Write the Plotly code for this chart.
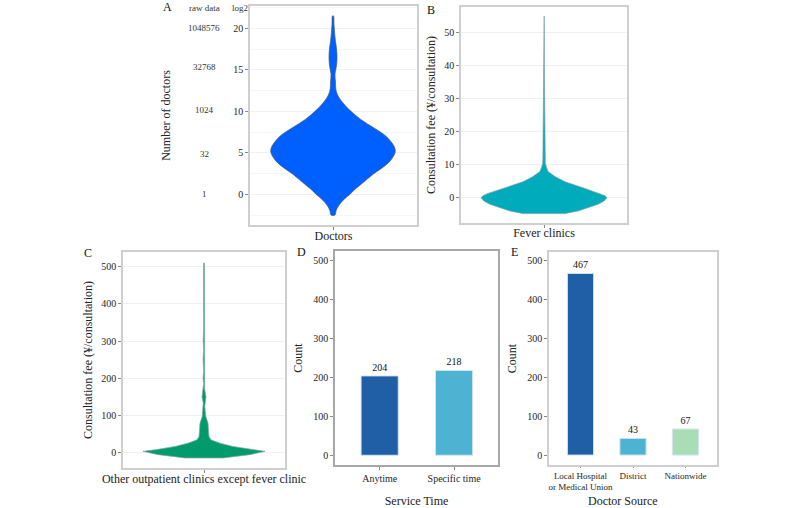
import plotly.graph_objects as go

W, H = 800, 508
SERIF = "Liberation Serif"

# Violin outlines: fee / log2 value and half width
doctors_y = [-2.5, -2, -1.5, -1, -0.5, 0, 0.5, 1, 1.5, 2.5, 3, 4, 5, 5.5, 6, 7, 8, 9, 10, 11, 12, 12.7, 13.5, 14.5, 15.5, 16.5, 17.5, 18.5, 19.5, 20.5, 21.5]
doctors_w = [2, 3, 5, 8, 12, 17, 21, 26, 31, 41, 47, 57, 62, 62, 60, 53, 41, 28, 18, 10, 4.5, 2.8, 2.5, 2, 3.5, 4, 3.6, 2.4, 1.6, 1, 0.5]

fever_y = [-4.8, -4, -2, -1, 0, 0.6, 1.3, 2.8, 4.8, 6.4, 7.9, 9.4, 10.4, 12, 20, 30, 40, 55]
fever_w = [21, 34, 54, 60, 63, 61, 56, 41, 21, 11, 4, 2.3, 1.3, 1.1, 0.8, 0.6, 0.3, 0.2]

other_y = [-15, -6, 3, 7, 16, 25, 34, 43, 61, 79, 97, 124, 133, 150, 170, 185, 200, 220, 250, 275, 300, 330, 400, 510]
other_w = [19, 46, 61, 49, 29, 16, 7, 5, 4.5, 4, 1.8, 0.8, 0.8, 2, 0.7, 0.4, 0.9, 0.4, 0.9, 0.4, 0.8, 0.4, 0.5, 0.5]

# Bars
time_cats = ["Anytime", "Specific time"]
time_counts = [204, 218]
source_cats = ["Local Hospital<br>or Medical Union", "District", "Nationwide"]
source_counts = [467, 43, 67]

# Raw data column of panel A
raw_labels = ["1048576", "32768", "1024", "32", "1"]
raw_pos_y = [28, 67, 110, 154, 194]

bar_colors = ["#205ea6", "#4eb3d3", "#a8ddb5"]


def xdom(a, b):
    return [a / W, b / W]


def ydom(top, bottom):
    return [1 - bottom / H, 1 - top / H]


def violin(y, w, color, edge, xa, ya, shape="linear"):
    xs = [-v for v in w] + [v for v in reversed(w)] + [-w[0]]
    ys = list(y) + list(reversed(y)) + [y[0]]
    return go.Scatter(x=xs, y=ys, mode="lines", fill="toself", fillcolor=color,
                      line=dict(color=edge, width=0.7, shape=shape), xaxis=xa, yaxis=ya,
                      showlegend=False, hoverinfo="skip")


fig = go.Figure()
fig.add_trace(violin(doctors_y, doctors_w, "#0060ff", "#4a5a70", "x", "y", "spline"))
fig.add_trace(violin(fever_y, fever_w, "#00acbb", "#7a9da2", "x2", "y2"))
fig.add_trace(violin(other_y, other_w, "#009a6c", "#8aa89e", "x3", "y3"))
fig.add_trace(go.Bar(x=time_cats, y=time_counts, text=time_counts, textposition="outside",
                     marker=dict(color=bar_colors[:2], line=dict(color="#d5e6f2", width=1)),
                     width=0.5, cliponaxis=False, xaxis="x4", yaxis="y4", showlegend=False))
fig.add_trace(go.Bar(x=source_cats, y=source_counts, text=source_counts, textposition="outside",
                     marker=dict(color=bar_colors, line=dict(color="#d5e6f2", width=1)),
                     width=0.5, cliponaxis=False, xaxis="x5", yaxis="y5", showlegend=False))

tick_font = dict(family=SERIF, size=10, color="#262626")
title_font = dict(family=SERIF, size=12, color="#222222")
border = dict(showline=True, mirror=True, linecolor="#cfcfcf", linewidth=1.5,
              ticks="outside", ticklen=3, tickcolor="#888888", tickwidth=1,
              tickfont=tick_font, zeroline=False)
grid = dict(showgrid=True, gridcolor="#f1f1f1", gridwidth=1)


def x_violin(box, span, title, anchor, standoff):
    return dict(domain=xdom(*box), range=span, tickvals=[0], showticklabels=False, anchor=anchor,
                showgrid=False, title=dict(text=title, font=title_font, standoff=standoff), **border)


def x_bar(box, span, title, standoff, anchor):
    return dict(domain=xdom(*box), range=span, type="category", tickangle=0, anchor=anchor, showgrid=False,
                title=dict(text=title, font=title_font, standoff=standoff), **border)


fig.update_layout(
    width=W, height=H, margin=dict(l=0, r=0, t=0, b=0), autosize=False,
    paper_bgcolor="white", plot_bgcolor="white", bargap=0.5,
    xaxis=x_violin((250, 417), [-83, 84], "Doctors", "y", 3),
    yaxis=dict(domain=ydom(6, 225), range=[-3.7, 22.7], tickvals=[0, 5, 10, 15, 20], anchor="x",
               minor=dict(dtick=2.5, showgrid=True, gridcolor="#f6f6f6"),
               title=dict(text="Number of doctors", font=title_font, standoff=60),
               **grid, **border),
    xaxis2=x_violin((461, 627), [-83, 83], "Fever clinics", "y2", 2),
    yaxis2=dict(domain=ydom(7, 223), range=[-7.65, 57.7], tickvals=[0, 10, 20, 30, 40, 50], anchor="x2",
                title=dict(text="Consultation fee (¥/consultation)", font=title_font, standoff=6),
                **grid, **border),
    xaxis3=x_violin((123, 285), [-81, 81], "Other outpatient clinics except fever clinic", "y3", 3),
    yaxis3=dict(domain=ydom(252, 468), range=[-42, 540], tickvals=[0, 100, 200, 300, 400, 500], anchor="x3",
                title=dict(text="Consultation fee (¥/consultation)", font=title_font, standoff=6),
                **grid, **border),
    xaxis4=x_bar((335, 498), [-0.6, 1.59], "Service Time", 16, "y4"),
    yaxis4=dict(domain=ydom(251, 465), range=[-25, 525], tickvals=[0, 100, 200, 300, 400, 500], anchor="x4",
                showgrid=False, title=dict(text="Count", font=title_font, standoff=8), **border),
    xaxis5=x_bar((549, 717), [-0.6, 2.6], "", 4, "y5"),
    yaxis5=dict(domain=ydom(252, 465), range=[-25.5, 522], tickvals=[0, 100, 200, 300, 400, 500], anchor="x5",
                showgrid=False, title=dict(text="Count", font=title_font, standoff=8), **border),
    font=dict(family=SERIF),
)
fig.update_traces(textfont=dict(family=SERIF, size=10, color="#111111"), selector=dict(type="bar"))

# panel D has a darker frame
fig.layout.xaxis4.linecolor = "#a8a8a8"
fig.layout.yaxis4.linecolor = "#a8a8a8"

# two-line labels of panel E need less room above the title
fig.layout.xaxis5.ticklen = 1
fig.layout.xaxis5.tickfont.size = 9


def note(txt, px, py, size, color):
    fig.add_annotation(text=txt, x=px / W, y=1 - py / H, xref="paper", yref="paper",
                       xanchor="center", yanchor="middle", showarrow=False,
                       font=dict(family=SERIF, size=size, color=color))


# Panel letters and the raw data column
panel_letters = [("A", 167, 7), ("B", 431, 10), ("C", 88, 253), ("D", 301, 252), ("E", 514, 252)]
for txt, px, py in panel_letters:
    note(txt, px, py, 12, "#111111")

note("raw data", 204, 8, 9, "#333333")
note("log2", 240, 8, 9, "#333333")
for txt, py in zip(raw_labels, raw_pos_y):
    note(txt, 204, py, 9, "#333333")

# sits left of the axis centre in the original
note("Doctor Source", 623, 501, 12, "#222222")

# body margin off so the figure fills the 800x508 window
fig.write_html("out.html", config={"displayModeBar": False}, post_script="document.body.style.margin = '0';")
